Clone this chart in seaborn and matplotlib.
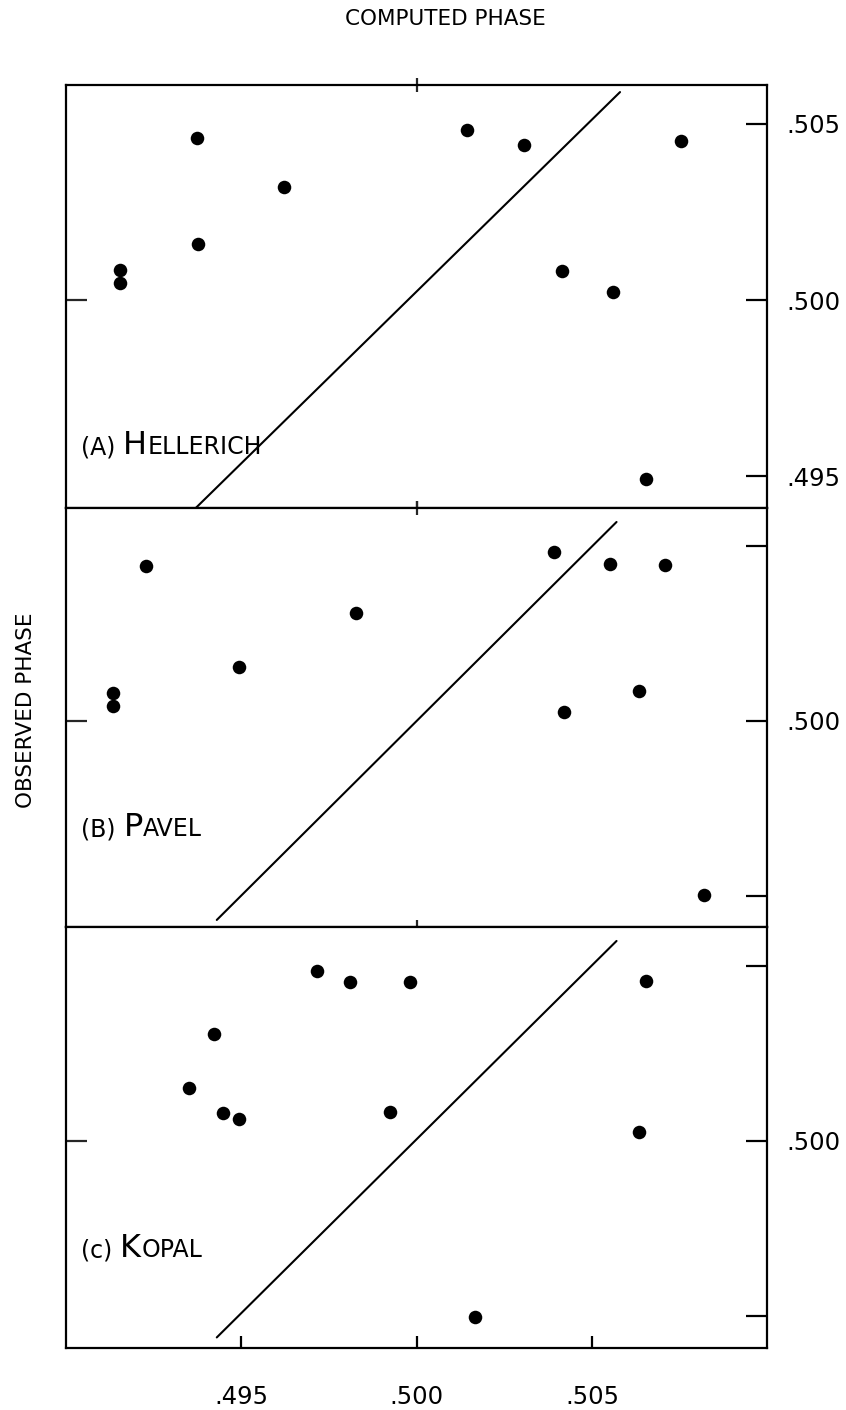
import matplotlib
matplotlib.use("Agg")
import pandas as pd
import matplotlib.pyplot as plt
import seaborn as sns
from matplotlib.offsetbox import TextArea, HPacker, AnnotationBbox

# computed phase (x) against observed phase (y)
hell_computed = [0.49374, 0.49623, 0.49377, 0.49154, 0.49154, 0.50143,
                 0.50306, 0.50754, 0.50414, 0.50560, 0.50654]
hell_observed = [0.50460, 0.50320, 0.50160, 0.50086, 0.50049, 0.50483,
                 0.50440, 0.50451, 0.50083, 0.50023, 0.49491]

pavel_computed = [0.49229, 0.49826, 0.49494, 0.49134, 0.49134, 0.50391,
                  0.50551, 0.50709, 0.50634, 0.50420, 0.50820]
pavel_observed = [0.50444, 0.50309, 0.50155, 0.50080, 0.50043, 0.50484,
                  0.50450, 0.50447, 0.50086, 0.50026, 0.49501]

kopal_computed = [0.49717, 0.49811, 0.49980, 0.49423, 0.49351, 0.49449,
                  0.49494, 0.49923, 0.50654, 0.50634, 0.50166]
kopal_observed = [0.50483, 0.50452, 0.50452, 0.50304, 0.50151, 0.50080,
                  0.50062, 0.50082, 0.50457, 0.50026, 0.49497]

# ends of the drawn line in each panel (computed, observed)
line_computed = [[0.4937, 0.5058], [0.4943, 0.5057], [0.4943, 0.5057]]
line_observed = [[0.4941, 0.5059], [0.4943, 0.5057], [0.4944, 0.5057]]

panel_labels = [("(A) ", "H", "ELLERICH"), ("(B) ", "P", "AVEL"), ("(c) ", "K", "OPAL")]
x_ticks = [0.495, 0.500, 0.505]
y_ticks = [0.495, 0.500, 0.505]

panels = [
    (hell_computed, hell_observed),
    (pavel_computed, pavel_observed),
    (kopal_computed, kopal_observed),
]

sns.set_theme(style="white")
plt.rcParams["font.family"] = ["DejaVu Sans"]

fig = plt.figure(figsize=(8.46, 14.1), dpi=100)

left, width = 0.078, 0.829
bottoms = [0.6397, 0.3426, 0.0440]
tops = [0.9397, 0.6397, 0.3426]

axes = []
for i, (comp, obs) in enumerate(panels):
    ax = fig.add_axes([left, bottoms[i], width, tops[i] - bottoms[i]],
                      sharex=axes[0] if axes else None)
    axes.append(ax)
    df = pd.DataFrame({"computed": comp, "observed": obs})
    sns.scatterplot(data=df, x="computed", y="observed", ax=ax,
                    color="black", s=95, edgecolor="black", linewidth=0)
    ln = pd.DataFrame({"computed": line_computed[i], "observed": line_observed[i]})
    sns.lineplot(data=ln, x="computed", y="observed", ax=ax,
                 color="black", linewidth=1.5)

    ax.set_xlim(0.490, 0.510)
    ax.set_ylim(0.4941, 0.5061)
    ax.set_xlabel("")
    ax.set_ylabel("")
    for sp in ax.spines.values():
        sp.set_visible(True)
        sp.set_color("black")
        sp.set_linewidth(1.6)

    ax.xaxis.remove_overlapping_locs = False
    ax.yaxis.remove_overlapping_locs = False

    # right axis ticks, pointing inwards
    ax.yaxis.tick_right()
    ax.set_yticks(y_ticks)
    if i == 0:
        ax.set_yticklabels([".495", ".500", ".505"])
    else:
        ax.set_yticklabels(["", ".500", ""])
    ax.tick_params(axis="y", which="major", direction="in", length=15, width=1.6,
                   pad=14, labelsize=17.5, colors="black", right=True, left=False)
    # lone left tick at .500
    ax.set_yticks([0.500], minor=True)
    ax.tick_params(axis="y", which="minor", direction="in", length=15, width=1.6,
                   left=True, right=False, labelleft=False, labelright=False)

    ax.set_xticks(x_ticks)
    if i == 2:
        ax.set_xticklabels([".495", ".500", ".505"])
        ax.tick_params(axis="x", direction="in", length=9, width=1.6, pad=27,
                       labelsize=17.5, colors="black", top=False, bottom=True)
    else:
        ax.tick_params(axis="x", labelbottom=False, bottom=False, top=False)
        ax.set_xticks([0.500], minor=True)
        ax.tick_params(axis="x", which="minor", direction="inout", length=10,
                       width=1.6, top=True, bottom=True, labelbottom=False)

    # panel name in small caps
    small, big = 17, 23
    parts = [TextArea(panel_labels[i][0], textprops=dict(fontsize=small, color="black")),
             TextArea(panel_labels[i][1], textprops=dict(fontsize=big, color="black")),
             TextArea(panel_labels[i][2], textprops=dict(fontsize=small, color="black"))]
    pack = HPacker(children=parts, align="baseline", pad=0, sep=0)
    label_y = [0.110, 0.200, 0.199][i]
    ab = AnnotationBbox(pack, (0.022, label_y), xycoords="axes fraction",
                        box_alignment=(0, 0), frameon=False, pad=0)
    ax.add_artist(ab)

fig.text(0.526, 0.9865, "COMPUTED PHASE", ha="center", va="center",
         fontsize=15.5, color="black")
fig.text(0.0307, 0.4965, "OBSERVED PHASE", ha="center", va="center",
         rotation=90, fontsize=15.5, color="black")

fig.savefig("out.png", dpi=100, facecolor="white")
plt.close(fig)
